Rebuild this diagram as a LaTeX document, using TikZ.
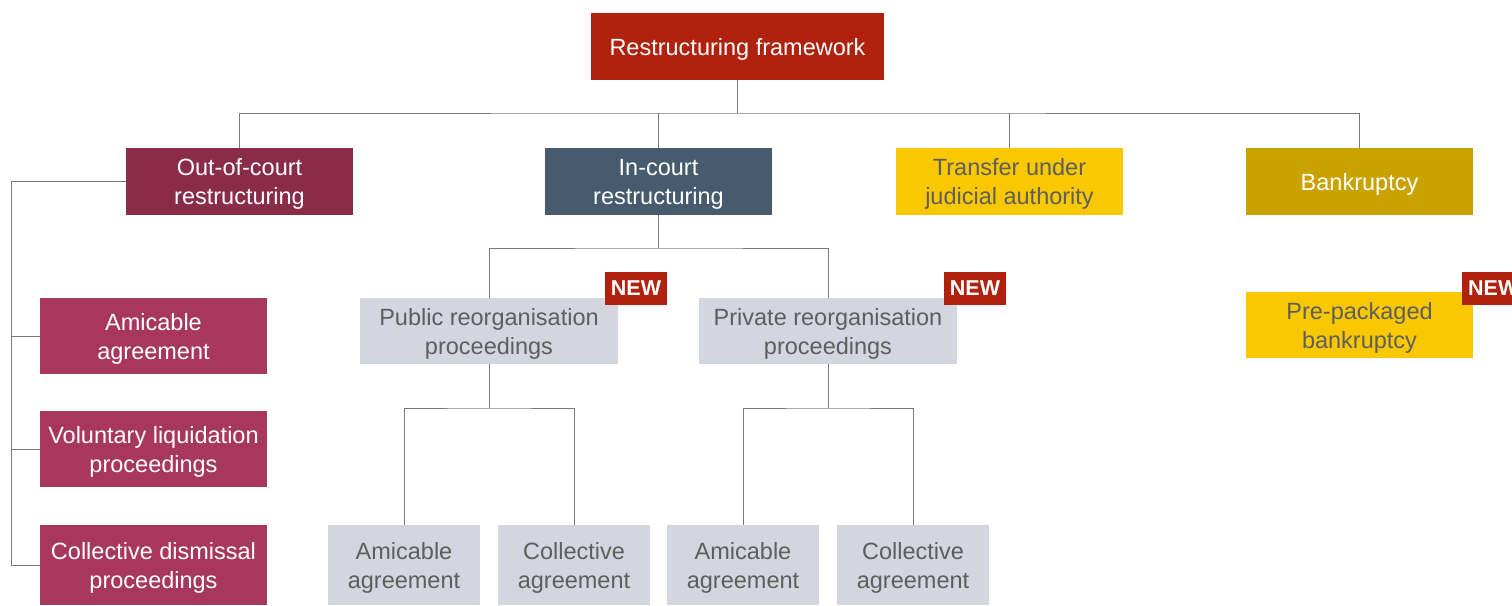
\documentclass[tikz,border=0pt]{standalone}
\usepackage{fontspec}
\setmainfont{Liberation Sans}
\definecolor{cRoot}{HTML}{B0220D}
\definecolor{cOut}{HTML}{8A2B49}
\definecolor{cOutChild}{HTML}{A8375E}
\definecolor{cIn}{HTML}{465B6D}
\definecolor{cYel}{HTML}{F9C800}
\definecolor{cBank}{HTML}{C9A200}
\definecolor{cGrey}{HTML}{D3D6DE}
\definecolor{cTextDark}{HTML}{5E5E5E}
\definecolor{cLine}{HTML}{7A7A7A}
\tikzset{
  box/.style={rectangle, inner sep=0pt, align=center, text depth=0pt, font=\fontsize{23.5}{29}\selectfont},
  whitetxt/.style={text=white},
  darktxt/.style={text=cTextDark},
  newbadge/.style={rectangle, fill=cRoot, text=white, inner sep=0pt, minimum width=62pt, minimum height=33pt, font=\fontsize{21.5}{24}\selectfont\bfseries},
  conn/.style={draw=cLine, line width=1pt},
}
\begin{document}
\begin{tikzpicture}[x=1pt,y=-1pt]
\useasboundingbox (0,0) rectangle (1512,605);
% top row
\node[box,whitetxt,fill=cRoot,minimum width=293pt,minimum height=67pt] (root) at (737.5,46.5) {Restructuring framework};
\node[box,whitetxt,fill=cOut,minimum width=227pt,minimum height=67pt] (out) at (239.5,181.5) {Out-of-court\\restructuring};
\node[box,whitetxt,fill=cIn,minimum width=227pt,minimum height=67pt] (in) at (658.5,181.5) {In-court\\restructuring};
\node[box,darktxt,fill=cYel,minimum width=227pt,minimum height=67pt] (transfer) at (1009.5,181.5) {Transfer under\\judicial authority};
\node[box,whitetxt,fill=cBank,minimum width=227pt,minimum height=67pt] (bank) at (1359.5,181.5) {Bankruptcy};
% left column
\node[box,whitetxt,fill=cOutChild,minimum width=227pt,minimum height=76pt] (ami) at (153.5,336) {Amicable\\agreement};
\node[box,whitetxt,fill=cOutChild,minimum width=227pt,minimum height=76pt] (vol) at (153.5,449) {Voluntary liquidation\\proceedings};
\node[box,whitetxt,fill=cOutChild,minimum width=227pt,minimum height=80pt] (col) at (153.5,565) {Collective dismissal\\proceedings};
% reorganisation
\node[box,darktxt,fill=cGrey,minimum width=258pt,minimum height=66pt] (pub) at (489,331) {Public reorganisation\\proceedings};
\node[box,darktxt,fill=cGrey,minimum width=258pt,minimum height=66pt] (priv) at (828,331) {Private reorganisation\\proceedings};
\node[newbadge] (new1) at (636,288.5) {NEW};
\node[newbadge] (new2) at (975,288.5) {NEW};
% pre-packaged
\node[box,darktxt,fill=cYel,minimum width=227pt,minimum height=66pt] (pre) at (1359.5,325) {Pre-packaged\\bankruptcy};
\node[newbadge,anchor=west] (new3) at (1462,288.5) {NEW};
% bottom
\node[box,darktxt,fill=cGrey,minimum width=152pt,minimum height=80pt] (pa) at (404,565) {Amicable\\agreement};
\node[box,darktxt,fill=cGrey,minimum width=152pt,minimum height=80pt] (pc) at (574,565) {Collective\\agreement};
\node[box,darktxt,fill=cGrey,minimum width=152pt,minimum height=80pt] (qa) at (743,565) {Amicable\\agreement};
\node[box,darktxt,fill=cGrey,minimum width=152pt,minimum height=80pt] (qc) at (913,565) {Collective\\agreement};
% connectors
\coordinate (rj) at (737.5,113);
\draw[conn] (root.south) -- (rj);
\draw[conn] (out.north) |- (rj) -| (bank.north);
\draw[conn] (in.north) -- (in.north |- rj);
\draw[conn] (transfer.north) -- (transfer.north |- rj);
\coordinate (lx) at (11,181.5);
\draw[conn] (out.west) -- (lx) |- (col.west);
\draw[conn] (lx |- ami.west) -- (ami.west);
\draw[conn] (lx |- vol.west) -- (vol.west);
\coordinate (ij) at (658.5,248);
\draw[conn] (in.south) -- (ij);
\draw[conn] (pub.north) |- (ij) -| (priv.north);
\coordinate (pj) at (489,408);
\draw[conn] (pub.south) -- (pj);
\draw[conn] (pa.north) |- (pj) -| (pc.north);
\coordinate (qj) at (828,408);
\draw[conn] (priv.south) -- (qj);
\draw[conn] (qa.north) |- (qj) -| (qc.north);
\end{tikzpicture}
\end{document}
